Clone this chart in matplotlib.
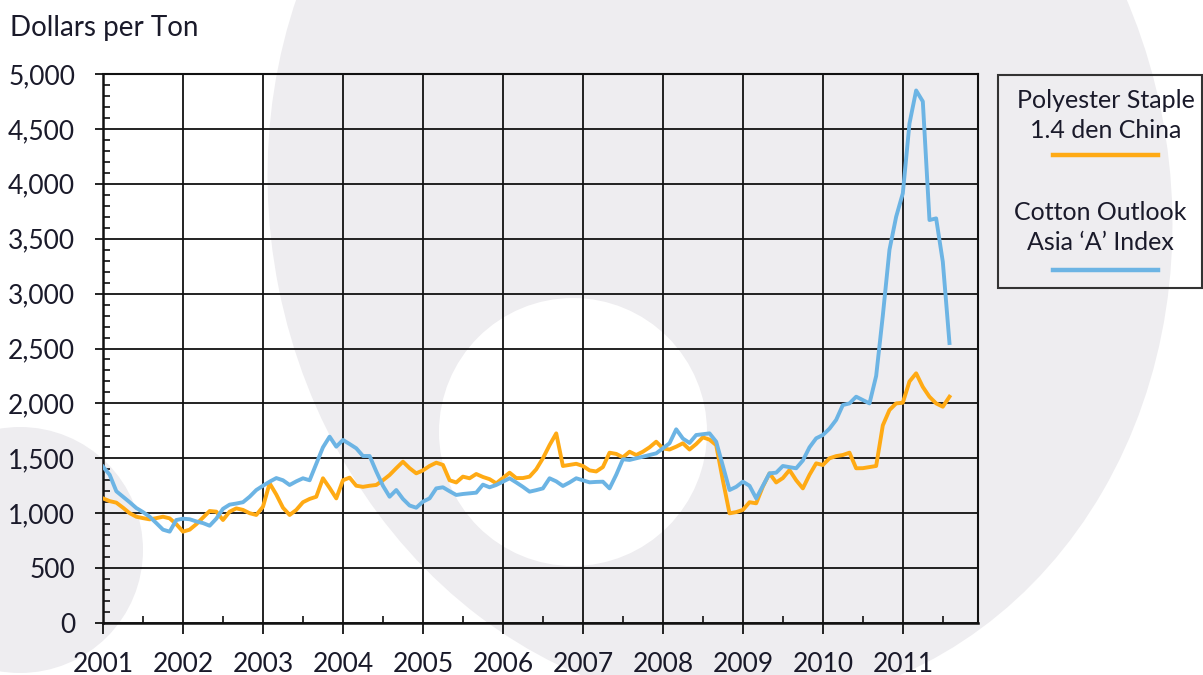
import matplotlib
matplotlib.use("Agg")
import matplotlib.pyplot as plt
from matplotlib.patches import Circle, Ellipse, Rectangle
from matplotlib.lines import Line2D
from matplotlib.ticker import MultipleLocator, FuncFormatter
import numpy as np

plt.rcParams['font.family'] = ['Lato', 'DejaVu Sans']

# monthly values, Jan 2001 .. Aug 2011 (dollars per ton)
polyester = [
    1135, 1110, 1096, 1050, 1000, 968, 955, 944, 955, 968, 953, 900,      # 2001
    832, 850, 900, 960, 1020, 1014, 938, 1014, 1044, 1030, 1000, 984,     # 2002
    1059, 1272, 1170, 1050, 984, 1030, 1100, 1130, 1150, 1318, 1230, 1135,  # 2003
    1300, 1324, 1250, 1240, 1250, 1257, 1300, 1348, 1410, 1469, 1410, 1363,  # 2004
    1390, 1430, 1460, 1440, 1300, 1280, 1333, 1318, 1357, 1330, 1310, 1272,  # 2005
    1320, 1369, 1320, 1320, 1333, 1400, 1500, 1620, 1727, 1430, 1440, 1450,  # 2006
    1430, 1390, 1380, 1420, 1551, 1540, 1509, 1560, 1530, 1560, 1600, 1651,  # 2007
    1590, 1580, 1606, 1637, 1580, 1630, 1691, 1670, 1620, 1300, 999, 1010,   # 2008
    1030, 1100, 1090, 1242, 1363, 1280, 1320, 1393, 1300, 1226, 1350, 1454,  # 2009
    1439, 1500, 1520, 1530, 1551, 1409, 1410, 1420, 1430, 1800, 1940, 2000,  # 2010
    2006, 2200, 2274, 2150, 2060, 2000, 1970, 2061,                          # 2011
]
cotton = [
    1424, 1350, 1200, 1150, 1100, 1047, 1010, 968, 910, 850, 832, 938,     # 2001
    950, 945, 925, 910, 886, 950, 1040, 1078, 1088, 1100, 1150, 1211,      # 2002
    1250, 1287, 1320, 1300, 1257, 1290, 1318, 1300, 1450, 1600, 1697, 1606,  # 2003
    1667, 1630, 1591, 1521, 1521, 1380, 1250, 1150, 1211, 1130, 1070, 1050,  # 2004
    1105, 1135, 1226, 1236, 1200, 1166, 1175, 1181, 1187, 1260, 1236, 1257,  # 2005
    1287, 1318, 1280, 1240, 1196, 1210, 1226, 1318, 1290, 1248, 1280, 1318,  # 2006
    1300, 1281, 1285, 1287, 1226, 1350, 1491, 1485, 1500, 1515, 1530, 1545,  # 2007
    1591, 1637, 1764, 1680, 1640, 1712, 1720, 1727, 1651, 1430, 1211, 1240,  # 2008
    1287, 1250, 1135, 1250, 1363, 1369, 1430, 1420, 1409, 1480, 1600, 1682,  # 2009
    1712, 1770, 1850, 1985, 2000, 2061, 2030, 2000, 2250, 2800, 3400, 3700,  # 2010
    3913, 4550, 4850, 4750, 3670, 3685, 3290, 2550,                          # 2011
]
years = list(range(2001, 2012))
dates = 2001 + np.arange(len(cotton)) / 12.0

ORANGE = '#ffaa14'
BLUE = '#6cb4e4'
INK = '#1a1a2a'

W, H = 1203, 675
fig = plt.figure(figsize=(W / 100, H / 100), dpi=100)
fig.patch.set_facecolor('white')

# watermark logo in the background (pixel coords, y down)
grey = '#eeedf0'
bg = fig.add_axes([0, 0, 1, 1], zorder=0)
bg.set_xlim(0, W); bg.set_ylim(H, 0); bg.axis('off')
bg.add_patch(Ellipse((720, 200), 900, 1020, angle=-11.3, color=grey, lw=0))
bg.add_patch(Circle((573, 432), 134, color='white', lw=0))
bg.add_patch(Circle((20, 550), 123, color=grey, lw=0))

ax = fig.add_axes([103 / W, 52 / H, 875 / W, 549 / H], zorder=1)
ax.patch.set_alpha(0)

ax.plot(dates, polyester, color=ORANGE, lw=2.8, zorder=3)
ax.plot(dates, cotton, color=BLUE, lw=2.8, zorder=3)

ax.set_xlim(2001, 2011.94)
ax.set_ylim(0, 5000)
ax.xaxis.set_minor_locator(MultipleLocator(0.5))
ax.yaxis.set_major_locator(MultipleLocator(500))
ax.yaxis.set_minor_locator(MultipleLocator(100))
ax.set_xticks(years)
ax.set_xticklabels([str(y) for y in years])
ax.yaxis.set_major_formatter(FuncFormatter(lambda v, p: f'{int(v):,}'))

ax.grid(True, which='major', color='#111111', lw=1.3, zorder=1)
for s in ax.spines.values():
    s.set_color('#111111')
    s.set_linewidth(1.5)
ax.spines['left'].set_linewidth(1.8)
ax.spines['bottom'].set_linewidth(1.8)

ax.tick_params(axis='x', which='major', direction='out', length=8, width=1.3,
               pad=13, labelsize=19, colors='#111111', labelcolor=INK)
ax.tick_params(axis='y', which='major', direction='out', length=6, width=1.3,
               pad=14, labelsize=19, colors='#111111', labelcolor=INK)
ax.tick_params(which='minor', direction='in', length=5, width=1.2, colors='#111111')

fig.text(10 / W, 1 - 28 / H, 'Dollars per Ton', fontsize=20, color=INK,
         ha='left', va='center')

# legend box
lg = fig.add_axes([0, 0, 1, 1], zorder=2)
lg.set_xlim(0, W); lg.set_ylim(H, 0); lg.axis('off')
lg.add_patch(Rectangle((998, 75), 204, 213, fill=False, ec='#333333', lw=1.5))
lg.text(1106, 100, 'Polyester Staple', fontsize=18, ha='center', va='center', color=INK)
lg.text(1106, 130, '1.4 den China', fontsize=18, ha='center', va='center', color=INK)
lg.add_line(Line2D([1053, 1158], [155, 155], color=ORANGE, lw=3.2))
lg.text(1100, 212, 'Cotton Outlook', fontsize=18, ha='center', va='center', color=INK)
lg.text(1100, 243, 'Asia \u2018A\u2019 Index', fontsize=18, ha='center', va='center', color=INK)
lg.add_line(Line2D([1053, 1158], [270, 270], color=BLUE, lw=3.2))

fig.savefig('out.png', dpi=100)
